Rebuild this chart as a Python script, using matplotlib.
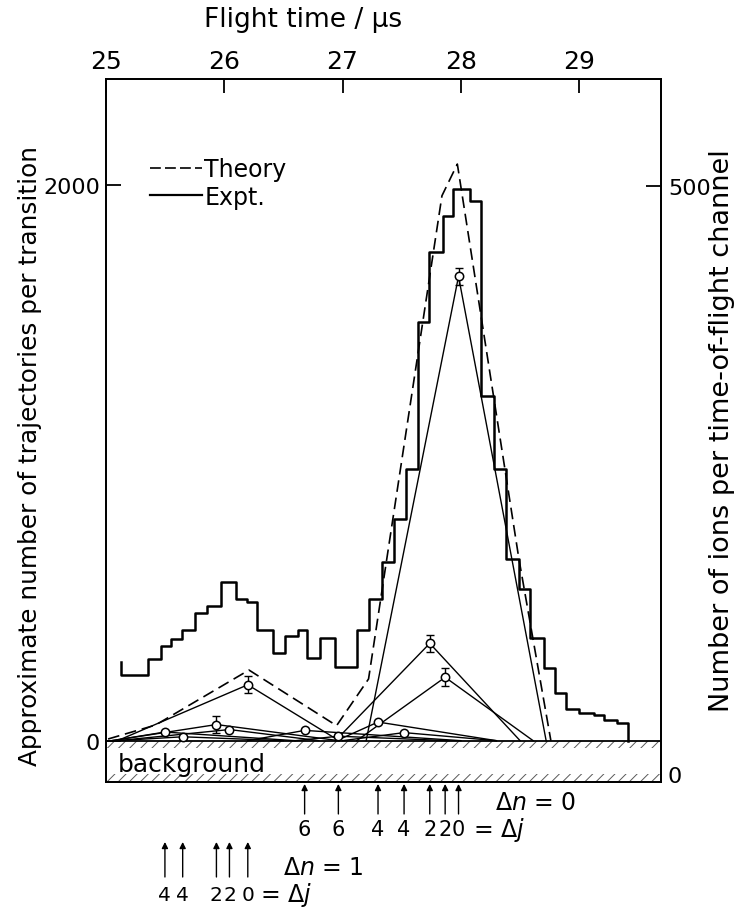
import numpy as np
import matplotlib.pyplot as plt
import matplotlib.transforms as mtransforms
from matplotlib.lines import Line2D

plt.rcParams['hatch.linewidth'] = 0.7

# experimental time-of-flight histogram (right axis, ions per channel)
hist_edges = [25.129, 25.360, 25.465, 25.549, 25.645, 25.755, 25.859, 25.972, 26.101, 26.192,
              26.281, 26.417, 26.516, 26.620, 26.704, 26.811, 26.938, 27.122, 27.228, 27.333,
              27.433, 27.534, 27.637, 27.733, 27.845, 27.933, 28.074, 28.170, 28.276, 28.380,
              28.488, 28.587, 28.699, 28.798, 28.891, 28.995, 29.122, 29.206, 29.320, 29.413]
hist_counts = [84, 98, 109, 115, 122, 137, 143, 163, 149, 146,
               122, 103, 117, 122, 99, 116, 91, 122, 149, 180,
               217, 259, 384, 444, 474, 497, 487, 321, 259, 183,
               157, 116, 90, 69, 55, 52, 50, 46, 43]
hist_start = 95
background = 28

# theory, total (left axis, trajectories per transition)
theory_t = [25.02, 25.42, 26.21, 26.95, 27.22, 27.84, 27.97, 28.49, 28.76]
theory_n = [6, 56, 254, 54, 222, 1960, 2074, 654, 0]

# individual transitions, delta n = 1
n1_pos = [25.50, 25.65, 25.935, 26.045, 26.20]
n1_peak = [31, 14, 58, 40, 201]
n1_lo = [25.05, 25.10, 25.05, 25.10, 25.10]
n1_hi = [26.60, 26.50, 26.97, 26.80, 26.97]
n1_err = [0, 0, 29, 0, 31]
n1_labels = ['4', '4', '2', '2', '0']

# individual transitions, delta n = 0
n0_pos = [26.68, 26.965, 27.30, 27.52, 27.737, 27.867, 27.98]
n0_peak = [37, 16, 67, 29, 350, 228, 1670]
n0_lo = [26.20, 26.60, 26.95, 27.00, 26.94, 27.12, 27.20]
n0_hi = [28.00, 27.90, 28.30, 28.30, 28.50, 28.61, 28.72]
n0_err = [0, 0, 0, 0, 31, 32, 30]
n0_labels = ['6', '6', '4', '4', '2', '2', '0']

fig = plt.figure(figsize=(7.43, 9.12), dpi=100)
ax = fig.add_axes([0.1423, 0.1418, 0.7473, 0.7705])
ax2 = ax.twinx()

ax.set_xlim(25, 29.69)
ax.set_ylim(-147.5, 2380)
ax2.set_ylim(-6.5, 590.7)

# background band
ax.fill_between([25, 29.69], -28, 0, facecolor='none', edgecolor='0.35', hatch='///', linewidth=0)
ax.fill_between([25, 29.69], -147.5, -120, facecolor='none', edgecolor='0.35', hatch='///', linewidth=0)
ax.axhline(0, color='k', lw=1.3)
ax.text(25.105, -84, 'background', fontsize=18, va='center', ha='left')

# transitions
for pos, peak, lo, hi, err in zip(n1_pos + n0_pos, n1_peak + n0_peak, n1_lo + n0_lo,
                                  n1_hi + n0_hi, n1_err + n0_err):
    ax.plot([lo, pos, hi], [0, peak, 0], color='k', lw=1.0)
    if err:
        ax.errorbar(pos, peak, yerr=err, fmt='none', ecolor='k', elinewidth=1.0, capsize=3, capthick=1.0)
ax.plot(n1_pos + n0_pos, n1_peak + n0_peak, 'o', mfc='white', mec='k', ms=6, mew=1.1, zorder=5)

ax.plot(theory_t, theory_n, color='k', lw=1.2, dashes=(7, 3.5))

# histogram
xs = np.repeat(hist_edges, 2)
ys = np.concatenate([[hist_start], np.repeat(hist_counts, 2), [background]])
ax2.plot(xs, ys, color='k', lw=1.8)

ax2.legend(handles=[Line2D([], [], color='k', lw=1.2, dashes=(6.5, 2.5)),
                    Line2D([], [], color='k', lw=1.6)],
           labels=['Theory', 'Expt.'], loc='upper left', bbox_to_anchor=(0.0798, 0.889),
           frameon=False, fontsize=17, handlelength=2.2, handletextpad=0.1,
           labelspacing=0.15, borderpad=0, borderaxespad=0)

# axes
ax.xaxis.tick_top()
ax.set_xticks([25, 26, 27, 28, 29])
ax.set_yticks([0, 2000])
ax2.set_yticks([0, 500])
ax.tick_params(axis='x', top=True, bottom=False, labeltop=True, labelbottom=False,
               direction='in', length=10, width=1.3, labelsize=18, pad=4)
ax.tick_params(axis='y', direction='in', length=11, width=1.3, labelsize=16, pad=4)
ax2.tick_params(axis='y', direction='in', length=11, width=1.3, labelsize=16, pad=5)
ax2.yaxis.get_major_ticks()[0].tick2line.set_visible(False)
for a in (ax, ax2):
    for s in a.spines.values():
        s.set_linewidth(1.3)

fig.text(0.408, 0.978, 'Flight time / μs', fontsize=19, ha='center', va='center')
fig.text(0.041, 0.500, 'Approximate number of trajectories per transition',
         fontsize=17.8, rotation=90, ha='center', va='center')
fig.text(0.972, 0.528, 'Number of ions per time-of-flight channel',
         fontsize=19.5, rotation=90, ha='center', va='center')

# transition markers below the axis
trans = mtransforms.blended_transform_factory(ax.transData, fig.transFigure)
arrow = dict(arrowstyle='-|>', color='k', lw=1.0, mutation_scale=9, shrinkA=0, shrinkB=0)
for x, lab in zip(n0_pos, n0_labels):
    ax.annotate('', xy=(x, 0.1393), xytext=(x, 0.1064), xycoords=trans, textcoords=trans,
                arrowprops=arrow, annotation_clip=False)
    ax.text(x, 0.0899, lab, transform=trans, ha='center', va='center', fontsize=15)
for x, lab in zip(n1_pos, n1_labels):
    ax.annotate('', xy=(x, 0.0757), xytext=(x, 0.0373), xycoords=trans, textcoords=trans,
                arrowprops=arrow, annotation_clip=False)
    ax.text(x, 0.0186, lab, transform=trans, ha='center', va='center', fontsize=14.5)
ax.text(28.10, 0.0899, r'= $\Delta j$', transform=trans, ha='left', va='center', fontsize=17)
ax.text(28.291, 0.1190, r'$\Delta n$ = 0', transform=trans, ha='left', va='center', fontsize=17)
ax.text(26.304, 0.0186, r'= $\Delta j$', transform=trans, ha='left', va='center', fontsize=17)
ax.text(26.499, 0.0480, r'$\Delta n$ = 1', transform=trans, ha='left', va='center', fontsize=17)

fig.savefig('out.png', dpi=100)
